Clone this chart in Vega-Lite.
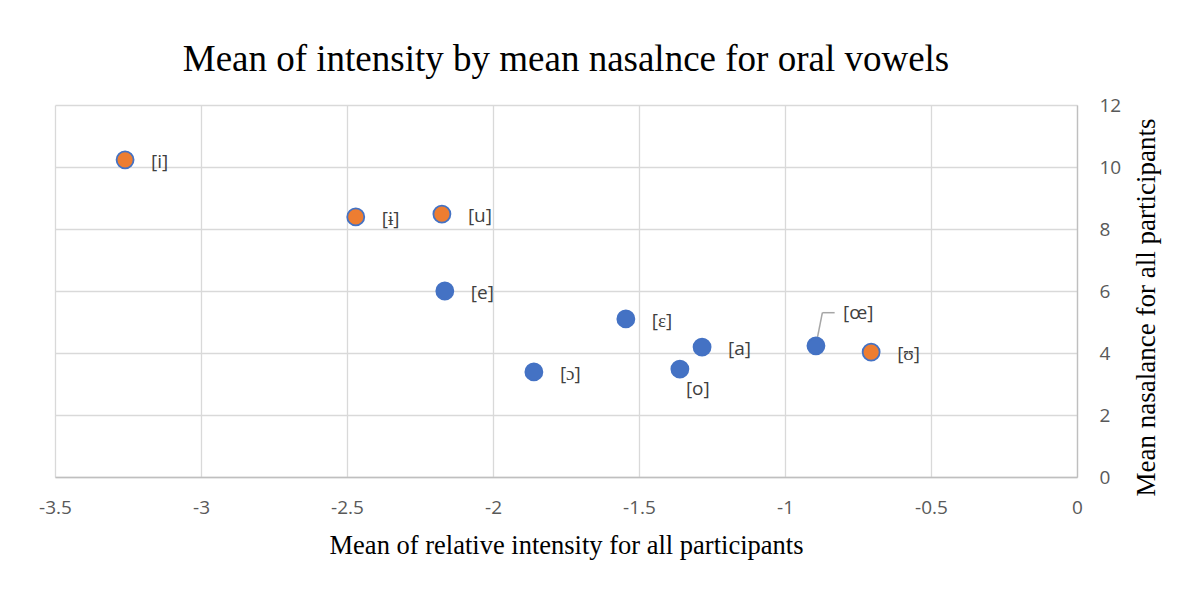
{
  "$schema": "https://vega.github.io/schema/vega-lite/v6.json",
  "autosize": {"type": "none"},
  "width": 1022,
  "height": 372,
  "padding": {"left": 55, "top": 105, "right": 113, "bottom": 114},
  "background": "white",
  "config": {"view": {"stroke": null}},
  "title": {
    "text": "Mean of intensity by mean nasalnce for oral vowels",
    "font": "Liberation Serif",
    "fontSize": 37,
    "fontWeight": "normal",
    "color": "#000000",
    "anchor": "middle",
    "offset": 17
  },
  "datasets": {
    "vowels": [
      {"vowel": "[i]", "intensity": -3.26, "nasalance": 10.23, "group": "orange", "pos": "right"},
      {"vowel": "[ɨ]", "intensity": -2.47, "nasalance": 8.39, "group": "orange", "pos": "right"},
      {"vowel": "[u]", "intensity": -2.175, "nasalance": 8.48, "group": "orange", "pos": "right"},
      {"vowel": "[e]", "intensity": -2.165, "nasalance": 6.0, "group": "blue", "pos": "right"},
      {"vowel": "[ɛ]", "intensity": -1.545, "nasalance": 5.1, "group": "blue", "pos": "right"},
      {"vowel": "[ɔ]", "intensity": -1.86, "nasalance": 3.39, "group": "blue", "pos": "right"},
      {"vowel": "[o]", "intensity": -1.36, "nasalance": 3.48, "group": "blue", "pos": "below"},
      {"vowel": "[a]", "intensity": -1.284, "nasalance": 4.19, "group": "blue", "pos": "right"},
      {"vowel": "[œ]", "intensity": -0.894, "nasalance": 4.23, "group": "blue", "pos": "above"},
      {"vowel": "[ʊ]", "intensity": -0.705, "nasalance": 4.03, "group": "orange", "pos": "right"}
    ],
    "leader": [
      {"seg": 1, "x": -0.892, "y": 4.35, "x2": -0.872, "y2": 5.3},
      {"seg": 2, "x": -0.872, "y": 5.3, "x2": -0.83, "y2": 5.3}
    ]
  },
  "layer": [
    {
      "data": {"name": "leader"},
      "mark": {"type": "rule", "color": "#a6a6a6", "strokeWidth": 1.5},
      "encoding": {
        "x": {"field": "x", "type": "quantitative"},
        "y": {"field": "y", "type": "quantitative"},
        "x2": {"field": "x2"},
        "y2": {"field": "y2"}
      }
    },
    {
      "data": {"name": "vowels"},
      "mark": {"type": "point", "filled": true, "size": 290, "strokeWidth": 1.8, "stroke": "#4472C4", "opacity": 1},
      "encoding": {
        "x": {
          "field": "intensity", "type": "quantitative",
          "scale": {"domain": [-3.5, 0], "nice": false, "zero": false},
          "axis": {
            "title": "Mean of relative intensity for all participants",
            "titleFont": "Liberation Serif", "titleFontSize": 26.5, "titleFontWeight": "normal", "titleColor": "#000000",
            "titlePadding": 15,
            "values": [-3.5, -3, -2.5, -2, -1.5, -1, -0.5, 0],
            "labelFont": "Open Sans", "labelFontSize": 19, "labelColor": "#595959",
            "labelPadding": 21, "ticks": false,
            "domainColor": "#bfbfbf", "domainWidth": 1.3,
            "grid": true, "gridColor": "#d9d9d9", "gridWidth": 1.3,
            "labelFlush": false, "labelExpr": "datum.value"
          }
        },
        "y": {
          "field": "nasalance", "type": "quantitative",
          "scale": {"domain": [0, 12], "nice": false},
          "axis": {
            "orient": "right",
            "title": "Mean nasalance for all participants",
            "titleFont": "Liberation Serif", "titleFontSize": 27, "titleFontWeight": "normal", "titleColor": "#000000",
            "titleAngle": 270, "titlePadding": 40, "titleBaseline": "bottom", "titleY": 202, "titleAlign": "center",
            "values": [0, 2, 4, 6, 8, 10, 12],
            "labelFont": "Open Sans", "labelFontSize": 19, "labelColor": "#595959",
            "labelPadding": 22, "ticks": false,
            "domainColor": "#bfbfbf", "domainWidth": 1.3,
            "grid": true, "gridColor": "#d9d9d9", "gridWidth": 1.3,
            "labelFlush": false
          }
        },
        "fill": {
          "field": "group", "type": "nominal",
          "scale": {"domain": ["blue", "orange"], "range": ["#4472C4", "#ED7D31"]},
          "legend": null
        }
      }
    },
    {
      "data": {"name": "vowels"},
      "transform": [{"filter": "datum.pos === 'right'"}],
      "mark": {"type": "text", "align": "left", "baseline": "middle", "dx": 26, "dy": 2, "font": "Open Sans", "fontSize": 19, "color": "#404040"},
      "encoding": {
        "x": {"field": "intensity", "type": "quantitative"},
        "y": {"field": "nasalance", "type": "quantitative"},
        "text": {"field": "vowel"}
      }
    },
    {
      "data": {"name": "vowels"},
      "transform": [{"filter": "datum.pos === 'below'"}],
      "mark": {"type": "text", "align": "left", "baseline": "middle", "dx": 6, "dy": 20, "font": "Open Sans", "fontSize": 19, "color": "#404040"},
      "encoding": {
        "x": {"field": "intensity", "type": "quantitative"},
        "y": {"field": "nasalance", "type": "quantitative"},
        "text": {"field": "vowel"}
      }
    },
    {
      "data": {"name": "vowels"},
      "transform": [{"filter": "datum.pos === 'above'"}],
      "mark": {"type": "text", "align": "left", "baseline": "middle", "dx": 27, "dy": -33, "font": "Open Sans", "fontSize": 19, "color": "#404040"},
      "encoding": {
        "x": {"field": "intensity", "type": "quantitative"},
        "y": {"field": "nasalance", "type": "quantitative"},
        "text": {"field": "vowel"}
      }
    }
  ]
}
